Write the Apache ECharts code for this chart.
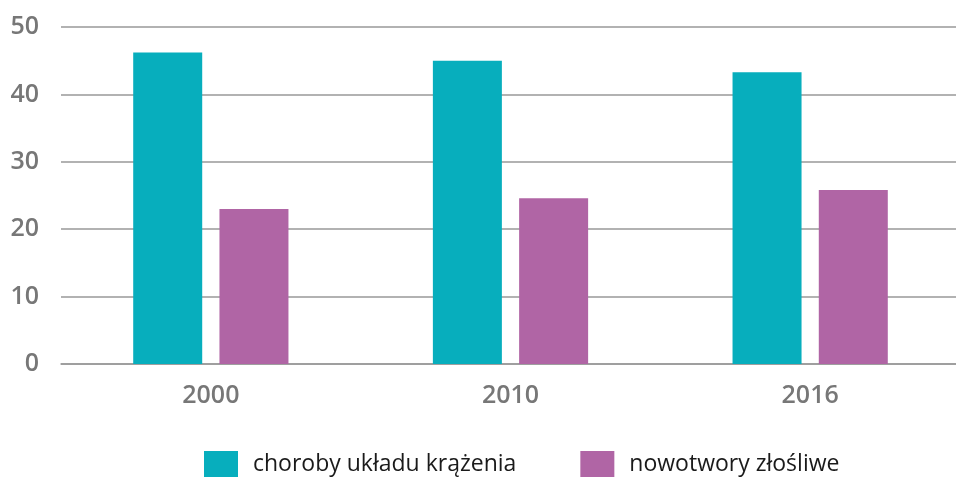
<!DOCTYPE html>
<html>
<head>
<meta charset="utf-8">
<script src="https://cdn.jsdelivr.net/npm/echarts@6/dist/echarts.min.js"></script>
<style>
  html, body { margin: 0; padding: 0; background: #fff; }
  #chart { width: 956px; height: 477px; }
</style>
</head>
<body>
<div id="chart"></div>
<script>
// dane
const years = ['2000', '2010', '2016']
const krazenie = [46.2, 45.0, 43.3]
const nowotwory = [23.0, 24.6, 25.8]
const yTicks = [0, 10, 20, 30, 40, 50]

const font = '"Open Sans", "Noto Sans", sans-serif'
const chart = echarts.init(document.getElementById('chart'))

chart.setOption({
  animation: false,
  color: ['#07aebd', '#b065a5'],
  grid: { left: 61, width: 899, top: 27, bottom: 113, outerBoundsMode: 'none' },
  legend: {
    top: 451,
    left: 204,
    padding: 0,
    itemWidth: 34,
    itemHeight: 26,
    itemGap: 64,
    icon: 'rect',
    textStyle: { fontFamily: font, fontSize: 23, color: '#1a1a1a', padding: [0, 0, 0, 10] },
    data: ['choroby układu krążenia', 'nowotwory złośliwe']
  },
  xAxis: {
    type: 'category',
    data: years,
    axisTick: { show: false },
    axisLine: { lineStyle: { color: '#999', width: 1.5 } },
    axisLabel: { fontFamily: font, fontSize: 25, fontWeight: 600, color: '#777', margin: 19 }
  },
  yAxis: {
    type: 'value',
    min: yTicks[0],
    max: yTicks[yTicks.length - 1],
    interval: 10,
    axisLine: { show: false },
    axisTick: { show: false },
    splitLine: { lineStyle: { color: '#999', width: 1.5 } },
    axisLabel: { fontFamily: font, fontSize: 25, fontWeight: 600, color: '#777', margin: 22 }
  },
  series: [
    {
      name: 'choroby układu krążenia',
      type: 'bar',
      barWidth: 69,
      barGap: '25%',
      data: krazenie
    },
    {
      name: 'nowotwory złośliwe',
      type: 'bar',
      barWidth: 69,
      data: nowotwory
    }
  ]
})
</script>
</body>
</html>
